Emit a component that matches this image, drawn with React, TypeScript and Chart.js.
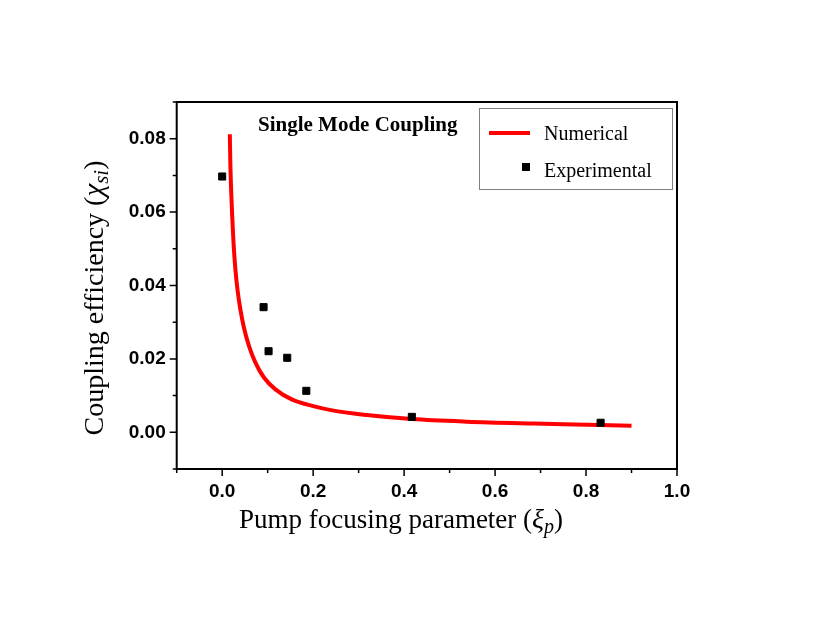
import React, { useEffect, useRef } from 'react';
import { Chart, registerables } from 'chart.js';

Chart.register(...registerables);

// numerical curve
const curveX = [0.0168, 0.018, 0.020, 0.022, 0.025, 0.029, 0.034, 0.040, 0.0475, 0.0585, 0.0731, 0.0914, 0.117, 0.154, 0.198, 0.245, 0.318, 0.417, 0.538, 0.684, 0.830, 0.900];
const curveY = [0.0812, 0.0730, 0.0650, 0.0590, 0.0515, 0.0445, 0.0385, 0.0335, 0.0287, 0.0237, 0.0190, 0.0150, 0.0117, 0.0089, 0.0072, 0.0059, 0.0047, 0.0036, 0.0029, 0.0024, 0.0020, 0.0018];

// experimental points
const expX = [0.0, 0.091, 0.102, 0.143, 0.185, 0.417, 0.832];
const expY = [0.0697, 0.0341, 0.0221, 0.0203, 0.0113, 0.0042, 0.0026];

const xTicks = [0, 0.2, 0.4, 0.6, 0.8, 1.0];
const xTickLabels = ['0.0', '0.2', '0.4', '0.6', '0.8', '1.0'];
const xMinor = [-0.1, 0.1, 0.3, 0.5, 0.7, 0.9];
const yTicks = [0, 0.02, 0.04, 0.06, 0.08];
const yTickLabels = ['0.00', '0.02', '0.04', '0.06', '0.08'];
const yMinor = [-0.01, 0.01, 0.03, 0.05, 0.07, 0.09];

type Part = { text: string; font: string; dy?: number };

const drawParts = (ctx: CanvasRenderingContext2D, parts: Part[], cx: number, y: number) => {
  let total = 0;
  parts.forEach(p => {
    ctx.font = p.font;
    total += ctx.measureText(p.text).width;
  });
  let x = cx - total / 2;
  parts.forEach(p => {
    ctx.font = p.font;
    ctx.fillText(p.text, x, y + (p.dy || 0));
    x += ctx.measureText(p.text).width;
  });
};

const decor = {
  id: 'decor',
  afterDraw(chart: any) {
    const ctx: CanvasRenderingContext2D = chart.ctx;
    const { left, right, top, bottom } = chart.chartArea;
    const xs = chart.scales.x;
    const ys = chart.scales.y;
    ctx.save();
    ctx.strokeStyle = '#000';
    ctx.lineWidth = 2;
    ctx.strokeRect(left, top, right - left, bottom - top);

    // ticks
    ctx.lineWidth = 1.5;
    ctx.beginPath();
    xTicks.forEach(v => {
      const px = xs.getPixelForValue(v);
      ctx.moveTo(px, bottom);
      ctx.lineTo(px, bottom + 7);
    });
    xMinor.forEach(v => {
      const px = xs.getPixelForValue(v);
      ctx.moveTo(px, bottom);
      ctx.lineTo(px, bottom + 4);
    });
    yTicks.forEach(v => {
      const py = ys.getPixelForValue(v);
      ctx.moveTo(left, py);
      ctx.lineTo(left - 7, py);
    });
    yMinor.forEach(v => {
      const py = ys.getPixelForValue(v);
      ctx.moveTo(left, py);
      ctx.lineTo(left - 4, py);
    });
    ctx.stroke();

    ctx.fillStyle = '#000';
    ctx.textBaseline = 'alphabetic';
    ctx.textAlign = 'left';

    // title in plot
    ctx.font = 'bold 21px "Liberation Serif"';
    ctx.fillText('Single Mode Coupling', 258, 131);

    // legend
    ctx.strokeStyle = '#808080';
    ctx.lineWidth = 1;
    ctx.strokeRect(479.5, 108.5, 193, 81);
    ctx.strokeStyle = '#ff0000';
    ctx.lineWidth = 4;
    ctx.beginPath();
    ctx.moveTo(489, 133);
    ctx.lineTo(530, 133);
    ctx.stroke();
    ctx.fillRect(522, 163, 8, 8);
    ctx.font = '20px "Liberation Serif"';
    ctx.fillText('Numerical', 544, 139.5);
    ctx.fillText('Experimental', 544, 176.5);

    // axis titles
    drawParts(ctx, [
      { text: 'Pump focusing parameter (', font: '27px "Liberation Serif"' },
      { text: 'ξ', font: 'italic 28px "Liberation Serif"' },
      { text: 'p', font: 'italic 20px "Liberation Serif"', dy: 5 },
      { text: ')', font: '27px "Liberation Serif"' },
    ], 401, 528);

    ctx.translate(103, 298);
    ctx.rotate(-Math.PI / 2);
    drawParts(ctx, [
      { text: 'Coupling efficiency (', font: '28px "Liberation Serif"' },
      { text: 'χ', font: 'italic 29px "Liberation Serif"' },
      { text: 'si', font: 'italic 21px "Liberation Serif"', dy: 5 },
      { text: ')', font: '28px "Liberation Serif"' },
    ], 0, 0);
    ctx.restore();
  },
};

const App = () => {
  const chartRef = useRef<HTMLCanvasElement | null>(null);
  const chartInstance = useRef<Chart | null>(null);

  useEffect(() => {
    if (!chartRef.current) return;
    const ctx = chartRef.current.getContext('2d');
    if (!ctx) return;
    if (chartInstance.current) chartInstance.current.destroy();

    const tickFont = { family: '"Liberation Sans"', size: 19, weight: 'bold' as const };

    chartInstance.current = new Chart(ctx, {
      type: 'scatter',
      data: {
        datasets: [
          {
            label: 'Experimental',
            data: expX.map((x, i) => ({ x, y: expY[i] })),
            pointStyle: 'rect',
            pointRadius: 5,
            backgroundColor: '#000',
            borderColor: '#000',
            borderWidth: 1,
            order: 0,
          },
          {
            label: 'Numerical',
            data: curveX.map((x, i) => ({ x, y: curveY[i] })),
            showLine: true,
            pointRadius: 0,
            borderColor: '#ff0000',
            borderWidth: 4,
            cubicInterpolationMode: 'monotone',
            order: 1,
          },
        ],
      },
      options: {
        animation: false,
        responsive: false,
        layout: { padding: { top: 102, right: 153, left: 0, bottom: 0 } },
        plugins: { legend: { display: false }, tooltip: { enabled: false } },
        scales: {
          x: {
            type: 'linear',
            min: -0.1,
            max: 1.0,
            grid: { display: false, drawTicks: false },
            border: { display: false },
            afterBuildTicks: (scale: any) => { scale.ticks = xTicks.map(v => ({ value: v })); },
            afterFit: (scale: any) => { scale.height = 173; },
            ticks: {
              color: '#000',
              font: tickFont,
              padding: 11,
              maxRotation: 0,
              callback: (_v: any, i: number) => xTickLabels[i],
            },
          },
          y: {
            type: 'linear',
            min: -0.01,
            max: 0.09,
            grid: { display: false, drawTicks: false },
            border: { display: false },
            afterBuildTicks: (scale: any) => { scale.ticks = yTicks.map(v => ({ value: v })); },
            afterFit: (scale: any) => { scale.width = 176.7; },
            ticks: {
              color: '#000',
              font: tickFont,
              padding: 11,
              callback: (_v: any, i: number) => yTickLabels[i],
            },
          },
        },
      },
      plugins: [decor],
    });

    return () => {
      if (chartInstance.current) {
        chartInstance.current.destroy();
        chartInstance.current = null;
      }
    };
  }, []);

  return (
    <div style={{ position: 'absolute', left: 0, top: 0, width: 830, height: 642, background: '#fff' }}>
      <canvas ref={chartRef} width={830} height={642}></canvas>
    </div>
  );
};

export default App;
